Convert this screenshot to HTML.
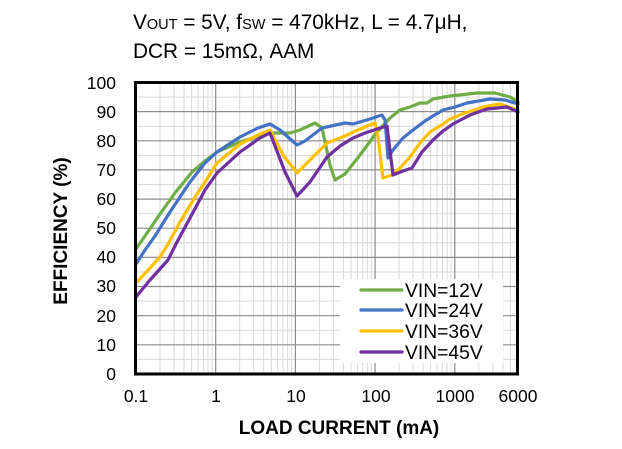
<!DOCTYPE html>
<html><head><meta charset="utf-8"><style>
html,body{margin:0;padding:0;background:#fff;width:622px;height:449px;overflow:hidden}
svg{display:block;font-family:"Liberation Sans",Arial,sans-serif}
</style></head><body>
<svg width="622" height="449" viewBox="0 0 622 449" xmlns="http://www.w3.org/2000/svg">
<text x="133" y="29" font-size="20.8" fill="#000">V<tspan font-size="14.5">OUT</tspan> = 5V, f<tspan font-size="14.5">SW</tspan> = 470kHz, L = 4.7μH,</text>
<text x="133" y="58" font-size="20.8" fill="#000">DCR = 15mΩ, AAM</text>
<g stroke="#d9d9d9" stroke-width="1" fill="none">
<path d="M160 83V374M174 83V374M184 83V374M191.6 83V374M198 83V374M203.3 83V374M208 83V374M212 83V374
M239.7 83V374M253.7 83V374M263.7 83V374M271.3 83V374M277.7 83V374M283 83V374M287.7 83V374M291.7 83V374
M319.4 83V374M333.4 83V374M343.4 83V374M351 83V374M357.4 83V374M362.7 83V374M367.4 83V374M371.4 83V374
M399.1 83V374M413.1 83V374M423.1 83V374M430.7 83V374M437.1 83V374M442.4 83V374M447.1 83V374M451.1 83V374
M478.8 83V374M492.8 83V374M502.8 83V374M510.4 83V374
M136 359.4H518M136 330.3H518M136 301.1H518M136 272H518M136 242.8H518M136 213.7H518M136 184.5H518M136 155.4H518M136 126.2H518M136 97.1H518"/>
</g>
<g stroke="#8c8c8c" stroke-width="1.2" fill="none">
<path d="M215.7 83V374M295.4 83V374M375.1 83V374M454.8 83V374
M136 344.8H518M136 315.7H518M136 286.5H518M136 257.4H518M136 228.2H518M136 199.1H518M136 169.9H518M136 140.8H518M136 111.6H518"/>
</g>
<g fill="none" stroke-width="3.2" stroke-linejoin="round" stroke-linecap="round">
<polyline stroke="#70ad47" points="136,249 145,236 160,214 175,193 192,172 205,161 217,152 240,142 270,133 290,133 300,130 315,123 322,128 330,165 335,180 345,174 360,155 377,132 390,118 400,110 410,107 420,103 427,103 433,99 450,96 477,93 495,93 510,97 518,102"/>
<polyline stroke="#4472c4" points="136,264 145,250 155,236 170,212 190,182 205,163 217,152 240,137 258,128 270,124 280,130 297,145 305,141 322,128 345,123 353,124 370,119 382,115 385,120 388,158 393,150 403,138 413,130 425,121 433,116 443,110 455,107 467,103 490,99 505,100 518,104"/>
<polyline stroke="#ffc000" points="136,283 150,268 160,257 168,244 180,222 195,197 205,182 217,163 240,144 260,134 270,130 283,155 297,173 310,160 327,143 345,136 360,129 375,123 378,137 383,178 392,175 400,168 410,157 420,143 430,132 440,126 450,119 465,113 483,107 500,104 518,110"/>
<polyline stroke="#7030a0" points="136,297 150,280 168,260 177,242 190,218 205,190 217,173 240,152 260,138 270,133 285,172 297,196 310,182 327,157 340,146 353,138 365,133 377,129 387,126 393,175 403,171 412,168 422,152 433,140 443,131 453,124 470,115 487,109 507,107 518,112"/>
</g>
<rect x="340" y="279" width="163" height="84" fill="#fff"/>
<g stroke-width="3.2" stroke-linecap="round">
<line x1="361" y1="290" x2="402" y2="290" stroke="#70ad47"/>
<line x1="361" y1="310" x2="402" y2="310" stroke="#4472c4"/>
<line x1="361" y1="331" x2="402" y2="331" stroke="#ffc000"/>
<line x1="361" y1="352" x2="402" y2="352" stroke="#7030a0"/>
</g>
<g font-size="19.3" fill="#000">
<text x="405" y="297">VIN=12V</text>
<text x="405" y="317">VIN=24V</text>
<text x="405" y="338">VIN=36V</text>
<text x="405" y="359">VIN=45V</text>
</g>
<rect x="135.5" y="82.5" width="382" height="291.5" fill="none" stroke="#000" stroke-width="3"/>
<g font-size="17.5" fill="#000" text-anchor="end">
<text x="116" y="380">0</text><text x="116" y="351">10</text><text x="116" y="322">20</text>
<text x="116" y="292">30</text><text x="116" y="263">40</text><text x="116" y="234">50</text>
<text x="116" y="205">60</text><text x="116" y="176">70</text><text x="116" y="147">80</text>
<text x="116" y="118">90</text><text x="116" y="89">100</text>
</g>
<g font-size="17.5" fill="#000" text-anchor="middle">
<text x="136" y="402">0.1</text><text x="216" y="402">1</text><text x="296" y="402">10</text>
<text x="376" y="402">100</text><text x="455" y="402">1000</text><text x="518" y="402">6000</text>
</g>
<text x="339" y="434" font-size="19" font-weight="bold" text-anchor="middle">LOAD CURRENT (mA)</text>
<text transform="translate(67,231) rotate(-90)" font-size="19" font-weight="bold" text-anchor="middle">EFFICIENCY (%)</text>
</svg>
</body></html>
